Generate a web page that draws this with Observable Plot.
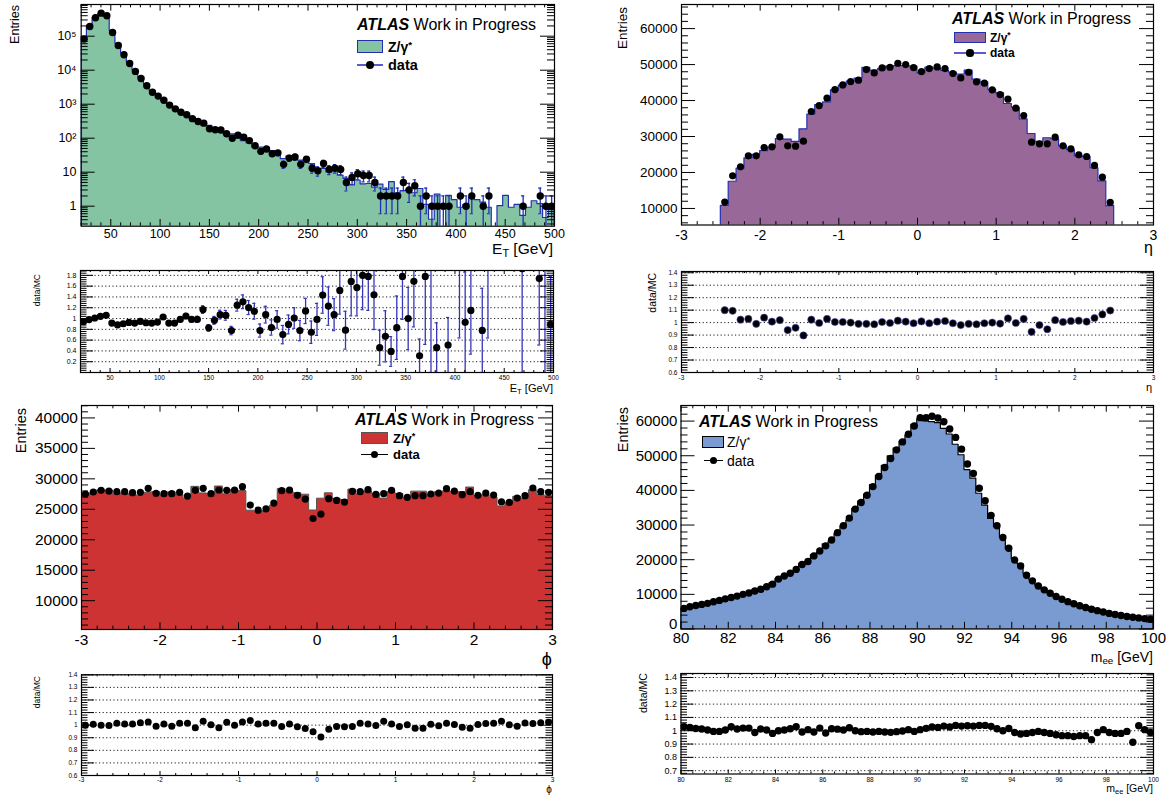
<!DOCTYPE html>
<html><head><meta charset="utf-8">
<script src="https://cdn.jsdelivr.net/npm/d3@7"></script>
<script src="https://cdn.jsdelivr.net/npm/@observablehq/plot@0.6"></script>
<style>
body{margin:0;background:#fff;}
#c{position:relative;width:1175px;height:796px;overflow:hidden;background:#fff;font-family:"Liberation Sans",Arial,Helvetica,sans-serif;}
#c svg{position:absolute;overflow:visible;}
.t{position:absolute;white-space:nowrap;line-height:1;color:#000;}
.t sub{font-size:.7em;vertical-align:-.25em;line-height:0;}
.t sup{font-size:.7em;vertical-align:.45em;line-height:0;}
.k{position:absolute;box-sizing:border-box;}
</style></head><body><div id="c"></div>
<script>
// ===================== DATA =====================
// E_T histogram (83 bins between 20 and 500 GeV)
const etLo = 20, etHi = 500;
const etData = [83000,193000,347000,476000,398000,129000,53000,28500,15800,9200,
 5700,3500,2250,1730,1300,940,730,580,490,375,
 310,277,190,177,175,135,100,123,107,85,
 60,41,48,35,37,17,26,28,17,24,
 13,11,18,12,13,12,5,7,9,8,
 8,5,2,2,2,2,5,3,4,1,
 2,1,1,1,1,0,2,1,2,0,
 1,2,0,0,0,0,0,1,0,0,
 2,1,1];
const etMC = [88300,197000,343600,457700,375500,141000,60000,31560,17030,10050,
 6020,3800,2460,1850,1265,1027,800,590,468,381,
 315,238,229,183,165,127,129,98.6,81.7,70.6,
 52.9,52.8,44.8,42,37.6,24.2,29.2,27.7,21.9,21.1,
 17.4,11.2,12.5,9.8,12.1,7.9,6.4,4.1,5.7,4.4,
 4.5,3.5,4.3,3.0,5.1,2.4,2.8,3.0,2.4,3.2,
 1.1,0.4,2.2,0,2.0,1.5,0.9,1.08,1.74,1.5,
 1.28,0.9,0,1.0,2.0,0.9,1.1,0.52,0.9,1.4,
 1.15,0.45,1.12];
const etErr = [288,439,589,690,631,359,230,169,126,96,
 75,59,47,42,36,31,27,24,22,19,
 17.6,16.6,13.8,13.3,13.2,11.6,10,11.1,10.3,9.2,
 7.7,6.4,6.9,5.9,6.1,4.1,5.1,5.3,4.1,4.9,
 3.6,3.3,4.2,3.5,3.6,3.5,2.2,2.6,3,2.8,
 2.8,2.2,1.4,1.4,1.4,1.4,2.2,1.7,2,1,
 1.4,1,1,1,1,0,1.4,1,1.4,0,
 1,1.4,0,0,0,0,0,1,0,0,
 1.4,1,1];
const etRatio = [0.94,0.98,1.01,1.04,1.06,0.915,0.884,0.903,0.928,0.915,
 0.947,0.922,0.915,0.934,1.028,0.915,0.915,0.984,1.047,0.984,
 0.984,1.166,0.828,0.966,1.072,1.06,0.777,1.248,1.31,1.204,
 1.135,0.777,1.072,0.834,0.984,0.702,0.89,1.01,0.777,1.14,
 0.746,0.984,1.436,1.23,1.072,1.52,0.784,1.687,1.574,1.8,
 1.78,1.44,0.46,0.67,0.39,0.83,1.78,1.0,1.69,0.31,
 1.78,2.5,0.46,null,0.51,null,2.2,0.93,1.15,null,
 0.78,2.2,null,null,null,null,null,1.92,null,null,
 1.74,2.2,0.89];
const etRatioErr = [0.003,0.002,0.002,0.002,0.002,0.003,0.004,0.005,0.007,0.01,
 0.013,0.016,0.019,0.022,0.03,0.03,0.034,0.041,0.047,0.051,
 0.056,0.07,0.06,0.073,0.081,0.091,0.078,0.11,0.127,0.13,
 0.147,0.121,0.155,0.141,0.162,0.17,0.175,0.191,0.188,0.233,
 0.207,0.297,0.338,0.355,0.297,0.439,0.351,0.638,0.525,0.636,
 0.629,0.644,0.325,0.474,0.276,0.587,0.796,0.577,0.845,0.31,
 1.26,2.5,0.46,null,0.51,null,1.56,0.93,0.81,null,
 0.78,1.56,null,null,null,null,null,1.92,null,null,
 1.23,2.2,0.89];

// eta histogram (50 bins, -2.5 .. 2.5)
const etaLo = -2.5, etaHi = 2.5;
const etaData = [11760,19070,21575,24630,24630,26950,27130,29900,27400,27300,
 28700,36950,38600,40650,43060,44350,45280,45650,48610,47690,
 49080,49260,50370,50000,49170,48060,48890,49350,48890,47500,
 46300,47870,45190,44820,42970,41670,40370,37870,35830,28430,
 27960,27960,29820,27410,26570,24910,24450,21950,18700,11670];
const etaMC = [10690,17420,21070,23910,24880,25910,26910,29310,29150,28500,
 32000,36080,38720,39470,42850,44130,45280,46110,49100,48320,
 48840,49410,49580,49600,49420,47580,49140,48960,48260,47740,
 47240,48350,45790,45050,42970,42010,39040,37980,34790,30700,
 28530,29520,29240,27270,26230,24520,24260,21170,17540,10640];
const etaRatio = [1.10,1.095,1.024,1.03,0.99,1.04,1.008,1.02,0.94,0.958,
 0.897,1.024,0.997,1.03,1.005,1.005,1.0,0.99,0.99,0.987,
 1.005,0.997,1.016,1.008,0.995,1.01,0.995,1.008,1.013,0.995,
 0.98,0.99,0.987,0.995,1.0,0.992,1.034,0.997,1.03,0.926,
 0.98,0.947,1.02,1.005,1.013,1.016,1.008,1.037,1.066,1.097];

// phi histogram (60 bins, -3 .. 3)
const phiLo = -3, phiHi = 3;
const phiData = [27510,27840,28110,28000,27890,27890,27730,27780,28440,27620,
 27560,27560,27780,27180,28110,28440,27560,28170,28110,28170,
 28720,25690,24860,25080,26020,28060,28170,27290,26680,23490,
 24200,26740,26460,26190,27950,27890,28220,27450,27560,28110,
 27230,26960,27230,27230,27510,27670,28390,28000,27400,27890,
 27290,27670,27340,26240,26130,26850,27230,28500,27890,27780];
const phiMC = [27506,27615,28111,28084,27451,27614,27452,27235,27721,27839,
 27288,27783,27343,26748,28685,27614,27479,28742,27452,28167,
 27989,24773,24618,24689,25610,28339,27888,27645,27392,24802,
 26744,27619,26727,26530,28228,27451,27941,27534,26758,27833,
 27506,26875,27901,27901,27288,27810,27940,27861,27841,28576,
 27150,27316,26911,25476,26052,27062,26749,28131,27343,27129];
const phiRatio = [1.0,1.008,1.0,0.997,1.016,1.01,1.01,1.02,1.026,0.992,
 1.01,0.992,1.016,1.016,0.98,1.03,1.003,0.98,1.024,1.0,
 1.026,1.037,1.01,1.016,1.016,0.99,1.01,0.987,0.974,0.947,
 0.905,0.968,0.99,0.987,0.99,1.016,1.01,0.997,1.03,1.01,
 0.99,1.003,0.976,0.976,1.008,0.995,1.016,1.005,0.984,0.976,
 1.005,1.013,1.016,1.03,1.003,0.992,1.018,1.013,1.02,1.024];

// m_ee histogram (80 bins, 80 .. 100 GeV)
const meeLo = 80, meeHi = 100;
const meeData = [5950,6400,6800,7100,7400,7850,8250,8700,9100,9500,
 10000,10400,10950,11450,12200,12950,14400,15300,16100,17200,
 18600,19500,21100,22500,24000,25700,27800,29800,32000,34600,
 36500,38600,41100,44000,46600,49200,51700,54000,56200,58600,
 61000,61000,61400,60900,59800,57700,55300,51900,47600,44900,
 40600,37000,32800,29800,26400,23300,19900,18200,15500,13900,
 12400,11300,10300,9400,8600,7900,7300,6700,6200,5700,
 5300,4900,4500,4200,3900,3600,3400,3200,3000,2800];
const meeMC = [5777,6244,6686,7009,7363,7889,8291,8657,8835,9378,
 9804,10196,11094,11303,12139,13214,14400,15224,15862,16699,
 18788,19345,21313,22059,24415,25320,27470,29652,31311,34600,
 36757,38794,41515,44221,47071,49798,52064,54108,55754,58894,
 60516,59921,59728,59415,57778,56128,53173,50145,45857,43382,
 39038,35577,31752,29360,26400,22911,20162,18667,15816,14083,
 12462,11449,10510,9691,8930,8204,7628,6957,6438,6109,
 5370,4861,4559,4286,3980,3618,3724,3083,2976,2837];
const meeRatio = [1.03,1.025,1.017,1.013,1.005,0.995,0.995,1.005,1.03,1.013,
 1.02,1.02,0.987,1.013,1.005,0.98,1.0,1.005,1.015,1.03,
 0.99,1.008,0.99,1.02,0.983,1.015,1.012,1.005,1.022,1.0,
 0.993,0.995,0.99,0.995,0.99,0.988,0.993,0.998,1.008,0.995,
 1.008,1.018,1.028,1.025,1.035,1.028,1.04,1.035,1.038,1.035,
 1.04,1.04,1.033,1.015,1.0,1.017,0.987,0.975,0.98,0.987,
 0.995,0.987,0.98,0.97,0.963,0.963,0.957,0.963,0.963,0.933,
 0.987,1.008,0.987,0.98,0.98,0.995,0.913,1.038,1.008,0.987];

// tick labels
const etTicks = [50,100,150,200,250,300,350,400,450,500];
const logTicks = [1,10,100,1000,10000,100000];
const logTickText = ["1","10","10²","10³","10⁴","10⁵"];
const etaTicks = [-3,-2,-1,0,1,2,3];
const etaYTicks = [10000,20000,30000,40000,50000,60000];
const phiYTicks = [10000,15000,20000,25000,30000,35000,40000];
const meeTicks = [80,82,84,86,88,90,92,94,96,98,100];
const meeYTicks = [0,10000,20000,30000,40000,50000,60000];
const ratioTicksTL = [0.2,0.4,0.6,0.8,1,1.2,1.4,1.6,1.8];
const ratioTicks = [0.6,0.7,0.8,0.9,1,1.1,1.2,1.3,1.4];
const ratioTicksBR = [0.7,0.8,0.9,1,1.1,1.2,1.3,1.4];

// ===================== HELPERS =====================
const C = document.getElementById("c");
const FONT = '"Liberation Sans", Arial, Helvetica, sans-serif';

function minor(lo, hi, step, majors) {
  const n = Math.round((hi - lo) / step);
  return d3.range(n + 1).map(i => +(lo + i * step).toFixed(6))
    .filter(v => !majors.some(m => Math.abs(m - v) < 1e-6));
}
function logMinor(lo, hi) {
  const out = [];
  for (let e = -1; e <= 6; e++) for (let k = 2; k <= 9; k++) {
    const v = k * Math.pow(10, e);
    if (v > lo && v < hi) out.push(v);
  }
  return out;
}
function stepTable(lo, hi, vals, floor) {
  const w = (hi - lo) / vals.length;
  const rows = vals.map((v, i) => ({x: lo + i * w, y: Math.max(v, floor)}));
  rows.push({x: hi, y: Math.max(vals[vals.length - 1], floor)});
  return rows;
}
function pointTable(lo, hi, vals, extra = {}) {
  const w = (hi - lo) / vals.length;
  return vals.map((v, i) => {
    const row = {x: lo + (i + 0.5) * w, y: v, w};
    for (const k in extra) row[k] = extra[k][i];
    return row;
  });
}

function panel(o) {
  const [fx0, fy0, fx1, fy1] = o.frame;
  const W = fx1 - fx0, H = fy1 - fy0;
  const blk = {stroke: "#000", strokeWidth: 1};
  const [xl, yl] = o.tickLen;
  const yLabDy = o.yLabDy || {};
  const marks = [];
  if (o.grid) marks.push(Plot.ruleY(o.grid, {y: d => d, stroke: "#000", strokeWidth: 0.9, strokeDasharray: "1.2,2.4"}));
  marks.push(...o.marks);
  marks.push(
    Plot.tickX(o.xMaj, {x: d => d, insetTop: H - xl, ...blk}),
    Plot.tickX(o.xMaj, {x: d => d, insetBottom: H - xl, ...blk}),
    Plot.tickX(o.xMin, {x: d => d, insetTop: H - xl / 2, ...blk}),
    Plot.tickX(o.xMin, {x: d => d, insetBottom: H - xl / 2, ...blk}),
    Plot.tickY(o.yMaj, {y: d => d, insetRight: W - yl, ...blk}),
    Plot.tickY(o.yMaj, {y: d => d, insetLeft: W - yl, ...blk}),
    Plot.tickY(o.yMin, {y: d => d, insetRight: W - yl / 2, ...blk}),
    Plot.tickY(o.yMin, {y: d => d, insetLeft: W - yl / 2, ...blk}),
    Plot.text(o.xLab, {x: d => d, text: (d, i) => o.xTxt ? o.xTxt[i] : String(d), frameAnchor: "bottom", dy: o.xdy, lineAnchor: "top", fontSize: o.xfs, fill: "#000"}),
    Plot.text(o.yLab.filter(v => !(v in yLabDy)), {y: d => d, text: d => o.yTxt ? o.yTxt[o.yLab.indexOf(d)] : String(d), frameAnchor: "left", dx: -o.ydx, textAnchor: "end", lineAnchor: "middle", fontSize: o.yfs, fill: "#000"}),
    ...Object.keys(yLabDy).map(k => Plot.text([+k], {y: d => d, text: d => String(d), frameAnchor: "left", dx: -o.ydx, dy: yLabDy[k], textAnchor: "end", lineAnchor: "middle", fontSize: o.yfs, fill: "#000"})),
    Plot.frame({stroke: "#000", strokeWidth: 1.2})
  );
  const svg = Plot.plot({
    width: o.width, height: o.height,
    marginLeft: fx0 - o.left, marginTop: fy0 - o.top,
    marginRight: o.left + o.width - fx1, marginBottom: o.top + o.height - fy1,
    x: {domain: o.xDomain, axis: null},
    y: {domain: o.yDomain, type: o.yType || "linear", axis: null},
    style: {fontFamily: FONT, background: "transparent", overflow: "visible"},
    marks
  });
  svg.style.position = "absolute";
  svg.style.left = o.left + "px";
  svg.style.top = o.top + "px";
  C.appendChild(svg);
}

function txt(html, x, baseline, size, opt = {}) {
  const d = document.createElement("div");
  d.className = "t";
  d.innerHTML = html;
  d.style.fontSize = size + "px";
  if (opt.weight) d.style.fontWeight = opt.weight;
  d.style.top = (baseline - 0.8465 * size) + "px";
  if (opt.anchor === "end") d.style.right = (1175 - x) + "px";
  else if (opt.anchor === "middle") { d.style.left = x + "px"; d.style.transform = "translateX(-50%)"; }
  else d.style.left = x + "px";
  C.appendChild(d);
}
function vtxt(s, xc, ytop, size) {
  const d = document.createElement("div");
  d.className = "t";
  d.textContent = s;
  d.style.fontSize = size + "px";
  d.style.left = xc + "px";
  d.style.top = ytop + "px";
  d.style.transformOrigin = "0 0";
  d.style.transform = "rotate(-90deg) translate(-100%,-50%)";
  C.appendChild(d);
}
function atlas(x, baseline) {
  txt('<b><i>ATLAS</i></b> Work in Progress', x, baseline, 16);
}
function swatch(x, yc, w, h, fill, stroke, sw) {
  const d = document.createElement("div");
  d.className = "k";
  Object.assign(d.style, {left: x + "px", top: (yc - h / 2) + "px", width: w + "px", height: h + "px",
    background: fill, border: sw + "px solid " + stroke});
  C.appendChild(d);
}
function dataKey(x0, x1, yc, color, r) {
  const l = document.createElement("div");
  l.className = "k";
  Object.assign(l.style, {left: x0 + "px", top: (yc - 0.6) + "px", width: (x1 - x0) + "px", height: "1.2px", background: color});
  C.appendChild(l);
  const c = document.createElement("div");
  c.className = "k";
  const xc = (x0 + x1) / 2;
  Object.assign(c.style, {left: (xc - r) + "px", top: (yc - r) + "px", width: 2 * r + "px", height: 2 * r + "px", background: "#000", borderRadius: "50%"});
  C.appendChild(c);
}

// ===================== TABLES =====================
const etPts = pointTable(etLo, etHi, etData, {err: etErr, r: etRatio, rerr: etRatioErr});
const etMain = etPts.filter(d => d.y > 0);
const LOGMIN = 0.258;
const etBars = etMain.map(d => ({x: d.x, w: d.w, y: d.y, lo: d.y - d.err, hi: d.y + d.err}));
const etRat = etPts.filter(d => d.r != null).map(d => ({x: d.x, w: d.w, r: d.r, lo: d.r - d.rerr, hi: d.r + d.rerr}));
const etaPts = pointTable(etaLo, etaHi, etaData);
const etaRat = pointTable(etaLo, etaHi, etaRatio);
const phiPts = pointTable(phiLo, phiHi, phiData);
const phiRat = pointTable(phiLo, phiHi, phiRatio);
const meePts = pointTable(meeLo, meeHi, meeData);
const meeRat = pointTable(meeLo, meeHi, meeRatio);

const BLUE = "#2230b0";

// ===================== PANEL 1: E_T main =====================
panel({
  left: 0, top: 0, width: 587, height: 262, frame: [80.7, 4, 554, 225.7],
  xDomain: [etLo, etHi], yDomain: [LOGMIN, 8.55e5], yType: "log",
  tickLen: [6.7, 14],
  xMaj: etTicks, xMin: minor(20, 500, 10, etTicks),
  yMaj: logTicks, yMin: logMinor(LOGMIN, 8.55e5),
  xLab: etTicks, xdy: 3, xfs: 12.5,
  yLab: logTicks, yTxt: logTickText, ydx: 4.7, yfs: 12.5,
  marks: [
    Plot.areaY(stepTable(etLo, etHi, etMC, 1e-3), {x: "x", y1: 1e-3, y2: "y", curve: "step-after", fill: "#84c4a3", stroke: BLUE, strokeWidth: 1.2, clip: true}),
    Plot.ruleX(etBars, {x: "x", y1: d => Math.max(d.lo, 1e-3), y2: "hi", stroke: BLUE, strokeWidth: 1.3, clip: true}),
    Plot.ruleY(etBars, {y: "hi", x1: d => d.x - d.w * 0.28, x2: d => d.x + d.w * 0.28, stroke: BLUE, strokeWidth: 1.2, clip: true}),
    Plot.ruleY(etBars.filter(d => d.lo > 0), {y: "lo", x1: d => d.x - d.w * 0.28, x2: d => d.x + d.w * 0.28, stroke: BLUE, strokeWidth: 1.2, clip: true}),
    Plot.dot(etMain, {x: "x", y: "y", r: 3.7, fill: "#000", clip: true})
  ]
});

// ===================== PANEL 2: E_T ratio =====================
panel({
  left: 0, top: 262, width: 587, height: 134, frame: [80, 270, 553, 372],
  xDomain: [etLo, etHi], yDomain: [0, 1.89],
  tickLen: [4, 13],
  grid: ratioTicksTL,
  xMaj: etTicks, xMin: minor(20, 500, 10, etTicks),
  yMaj: ratioTicksTL, yMin: minor(0, 1.88, 0.04, ratioTicksTL),
  xLab: etTicks, xdy: 2.5, xfs: 6.5,
  yLab: ratioTicksTL, ydx: 4, yfs: 7,
  marks: [
    Plot.ruleX(etRat, {x: "x", y1: "lo", y2: "hi", stroke: "#3535b8", strokeWidth: 1.3, clip: true}),
    Plot.ruleY(etRat, {y: "hi", x1: d => d.x - d.w * 0.28, x2: d => d.x + d.w * 0.28, stroke: "#3535b8", strokeWidth: 1.2, clip: true}),
    Plot.ruleY(etRat, {y: "lo", x1: d => d.x - d.w * 0.28, x2: d => d.x + d.w * 0.28, stroke: "#3535b8", strokeWidth: 1.2, clip: true}),
    Plot.dot(etRat, {x: "x", y: "r", r: 3.6, fill: "#000", clip: true})
  ]
});

// ===================== PANEL 3: eta main =====================
panel({
  left: 587, top: 0, width: 588, height: 262, frame: [681, 4, 1153, 224.5],
  xDomain: [-3, 3], yDomain: [5400, 66700],
  tickLen: [6.7, 14],
  xMaj: etaTicks, xMin: minor(-3, 3, 0.2, etaTicks),
  yMaj: etaYTicks, yMin: minor(6000, 66000, 2000, etaYTicks),
  xLab: etaTicks, xdy: 5, xfs: 14,
  yLab: etaYTicks, ydx: 4, yfs: 13.5,
  marks: [
    Plot.areaY(stepTable(etaLo, etaHi, etaMC, 0), {x: "x", y1: 0, y2: "y", curve: "step-after", fill: "#986898", stroke: BLUE, strokeWidth: 1.2, clip: true}),
    Plot.dot(etaPts, {x: "x", y: "y", r: 3.6, fill: "#000", clip: true})
  ]
});

// ===================== PANEL 4: eta ratio =====================
panel({
  left: 587, top: 262, width: 588, height: 134, frame: [681, 271, 1153, 372],
  xDomain: [-3, 3], yDomain: [0.6, 1.41],
  tickLen: [4, 13],
  grid: ratioTicks,
  xMaj: etaTicks, xMin: minor(-3, 3, 0.2, etaTicks),
  yMaj: ratioTicks, yMin: minor(0.6, 1.4, 0.02, ratioTicks),
  xLab: etaTicks, xdy: 2.5, xfs: 6.5,
  yLab: ratioTicks, ydx: 4, yfs: 6.5,
  marks: [
    Plot.dot(etaRat, {x: "x", y: "y", r: 3.6, fill: "#000", stroke: "#4a4ab8", strokeWidth: 0.6, clip: true})
  ]
});

// ===================== PANEL 5: phi main =====================
panel({
  left: 0, top: 398, width: 587, height: 264, frame: [81, 405, 552, 629],
  xDomain: [-3, 3], yDomain: [5270, 42040],
  tickLen: [6.7, 14],
  xMaj: etaTicks, xMin: minor(-3, 3, 0.2, etaTicks),
  yMaj: phiYTicks, yMin: minor(6000, 42000, 1000, phiYTicks),
  xLab: etaTicks, xdy: 4, xfs: 15.5,
  yLab: phiYTicks, ydx: 3.5, yfs: 15.5,
  marks: [
    Plot.areaY(stepTable(phiLo, phiHi, phiMC, 0), {x: "x", y1: 0, y2: "y", curve: "step-after", fill: "#cd3333", stroke: "#555", strokeWidth: 1, clip: true}),
    Plot.dot(phiPts, {x: "x", y: "y", r: 3.6, fill: "#000", clip: true})
  ]
});

// ===================== PANEL 6: phi ratio =====================
panel({
  left: 0, top: 662, width: 587, height: 134, frame: [81, 674.3, 552, 775],
  xDomain: [-3, 3], yDomain: [0.6, 1.4],
  tickLen: [4, 13],
  grid: ratioTicks,
  xMaj: etaTicks, xMin: minor(-3, 3, 0.2, etaTicks),
  yMaj: ratioTicks, yMin: minor(0.6, 1.4, 0.02, ratioTicks),
  xLab: etaTicks, xdy: 2, xfs: 6.5,
  yLab: ratioTicks, ydx: 4, yfs: 6.5,
  marks: [
    Plot.dot(phiRat, {x: "x", y: "y", r: 3.5, fill: "#000", clip: true})
  ]
});

// ===================== PANEL 7: m_ee main =====================
panel({
  left: 587, top: 398, width: 588, height: 264, frame: [680.5, 405, 1153, 628.5],
  xDomain: [meeLo, meeHi], yDomain: [0, 64500],
  tickLen: [6.7, 14],
  xMaj: meeTicks, xMin: minor(80, 100, 0.5, meeTicks),
  yMaj: meeYTicks, yMin: minor(0, 64000, 2000, meeYTicks),
  xLab: meeTicks, xdy: 3.4, xfs: 15,
  yLab: meeYTicks, yLabDy: {0: -5}, ydx: 3.6, yfs: 15,
  marks: [
    Plot.areaY(stepTable(meeLo, meeHi, meeMC, 0), {x: "x", y1: 0, y2: "y", curve: "step-after", fill: "#7a9bd2", stroke: "#000", strokeWidth: 1.2, clip: true}),
    Plot.dot(meePts, {x: "x", y: "y", r: 3.7, fill: "#000", clip: true})
  ]
});

// ===================== PANEL 8: m_ee ratio =====================
panel({
  left: 587, top: 662, width: 588, height: 134, frame: [680.5, 673, 1153, 773.5],
  xDomain: [meeLo, meeHi], yDomain: [0.675, 1.43],
  tickLen: [4, 13],
  grid: ratioTicksBR,
  xMaj: meeTicks, xMin: minor(80, 100, 0.5, meeTicks),
  yMaj: ratioTicksBR, yMin: minor(0.68, 1.42, 0.02, ratioTicksBR),
  xLab: meeTicks, xdy: 3, xfs: 6.5,
  yLab: ratioTicksBR, ydx: 4, yfs: 9,
  marks: [
    Plot.dot(meeRat, {x: "x", y: "y", r: 3.7, fill: "#000", clip: true})
  ]
});

// ===================== TEXT & LEGENDS =====================
// axis titles
txt('E<sub>T</sub> [GeV]', 553, 254, 15.5, {anchor: "end"});
txt('η', 1153, 254, 16, {anchor: "end"});
txt('ϕ', 546.7, 665, 18, {anchor: "middle"});
txt('m<sub>ee</sub> [GeV]', 1153, 661.5, 14, {anchor: "end"});
txt('E<sub>T</sub> [GeV]', 553, 392, 11, {anchor: "end"});
txt('η', 1152, 391, 11, {anchor: "end"});
txt('ϕ', 549, 793, 10, {anchor: "middle"});
txt('m<sub>ee</sub> [GeV]', 1153, 792, 10.5, {anchor: "end"});

vtxt("Entries", 14.5, 5, 12.5);
vtxt("Entries", 623, 7, 13.5);
vtxt("Entries", 21, 408, 14.5);
vtxt("Entries", 623, 407, 14.5);
vtxt("data/MC", 36.5, 274, 8.5);
vtxt("data/MC", 651.7, 273, 10.5);
vtxt("data/MC", 36.5, 676, 8.5);
vtxt("data/MC", 643.3, 673, 10.6);

// legends
atlas(357, 30.5);
swatch(357, 46.7, 26, 13, "#84c4a3", BLUE, 1.5);
txt('Z/γ<sup>*</sup>', 388, 51.7, 14, {weight: "bold"});
dataKey(357, 383, 65, "#5b5bc9", 4);
txt('data', 388, 70, 14.5, {weight: "bold"});

atlas(952, 25);
swatch(954, 37.3, 32, 10.5, "#986898", BLUE, 1.3);
txt('Z/γ<sup>*</sup>', 990, 41.7, 12, {weight: "bold"});
dataKey(954, 986, 53, "#5b5bc9", 3.6);
txt('data', 990, 57.3, 12, {weight: "bold"});

atlas(355, 425.5);
swatch(360.7, 438.3, 27.5, 11.7, "#cd3333", "#555", 1.2);
txt('Z/γ<sup>*</sup>', 393, 443, 13, {weight: "bold"});
dataKey(360.7, 388.2, 454.2, "#000", 3.6);
txt('data', 393, 458.9, 13, {weight: "bold"});

atlas(699, 427.6);
swatch(702.4, 441.8, 22, 11.8, "#7a9bd2", "#000", 1.5);
txt('Z/γ<sup>*</sup>', 727, 446.8, 14);
dataKey(704, 723, 460.4, "#000", 3.6);
txt('data', 727, 465.4, 14);
</script></body></html>
